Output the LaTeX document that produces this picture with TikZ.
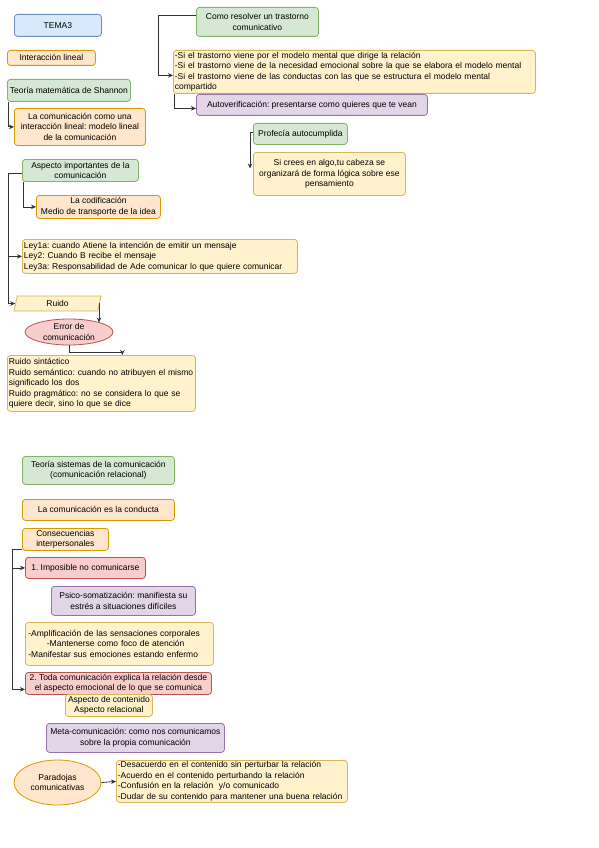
\documentclass[tikz,border=0pt]{standalone}
\usepackage{fontspec}
\setmainfont{Liberation Sans}
\usetikzlibrary{arrows.meta,shapes.geometric}
\definecolor{bfill}{HTML}{DAE8FC}\definecolor{bdraw}{HTML}{6C8EBF}
\definecolor{ofill}{HTML}{FFE6CC}\definecolor{odraw}{HTML}{D79B00}
\definecolor{gfill}{HTML}{D5E8D4}\definecolor{gdraw}{HTML}{82B366}
\definecolor{yfill}{HTML}{FFF2CC}\definecolor{ydraw}{HTML}{D6B656}
\definecolor{rfill}{HTML}{F8CECC}\definecolor{rdraw}{HTML}{B85450}
\definecolor{pfill}{HTML}{E1D5E7}\definecolor{pdraw}{HTML}{9673A6}
\definecolor{edge}{HTML}{333333}
\frenchspacing
\begin{document}
\begin{tikzpicture}[x=1pt,y=-1pt,
  base/.style={draw, rounded corners=3pt, line width=0.8pt, inner xsep=1.5pt, inner ysep=0.5pt,
    font=\fontsize{8.5}{10.5}\selectfont, anchor=north west, align=center},
  bbox/.style={base, fill=bfill, draw=bdraw},
  obox/.style={base, fill=ofill, draw=odraw},
  gbox/.style={base, fill=gfill, draw=gdraw},
  ybox/.style={base, fill=yfill, draw=ydraw},
  rbox/.style={base, fill=rfill, draw=rdraw},
  pbox/.style={base, fill=pfill, draw=pdraw},
  lefttext/.style={align=left, text width=#1},
  arr/.style={draw=edge, line width=0.8pt, -{Stealth[length=5pt,width=4.5pt]}}
]
\fill[white] (0,0) rectangle (599,848);
\useasboundingbox (0,0) rectangle (599,848);

% left column, top
\node[bbox, minimum width=87pt, minimum height=22pt] (n1) at (14,14) {TEMA3};
\node[obox, minimum width=88pt, minimum height=15pt] (n2) at (7,50) {Interacción lineal};
\node[gbox, minimum width=123pt, minimum height=22pt] (n3) at (7,79) {Teoría matemática de Shannon};
\node[obox, minimum width=131pt, minimum height=37pt] (n4) at (14,108) {La comunicación como una\\interacción lineal: modelo lineal\\de la comunicación};

% right column
\node[gbox, minimum width=122pt, minimum height=29pt] (n5) at (196,7) {Como resolver un trastorno\\comunicativo};
\node[ybox, lefttext=359pt, minimum height=43pt] (n6) at (173,50) {-Si el trastorno viene por el modelo mental que dirige la relación\\-Si el trastorno viene de la necesidad emocional sobre la que se elabora el modelo mental\\-Si el trastorno viene de las conductas con las que se estructura el modelo mental\\compartido};
\node[pbox, minimum width=231pt, minimum height=21pt] (n7) at (196,94) {Autoverificación: presentarse como quieres que te vean};
\node[gbox, minimum width=94pt, minimum height=21pt] (n8) at (253,123) {Profecía autocumplida};
\node[ybox, minimum width=152pt, minimum height=43pt] (n9) at (253,152) {Si crees en algo,tu cabeza se\\organizará de forma lógica sobre ese\\pensamiento};

% aspectos
\node[gbox, minimum width=116pt, minimum height=22pt] (n10) at (22,159) {Aspecto importantes de la\\comunicación};
\node[obox, minimum width=124pt, minimum height=23pt] (n11) at (36,195) {La codificación\\Medio de transporte de la idea};
\node[ybox, lefttext=272pt, minimum height=34pt] (n12) at (22,239) {Ley1a: cuando Atiene la intención de emitir un mensaje\\Ley2: Cuando B recibe el mensaje\\Ley3a: Responsabilidad de Ade comunicar lo que quiere comunicar};
\node[draw=ydraw, fill=yfill, line width=0.8pt, trapezium, trapezium left angle=62, trapezium right angle=118,
  trapezium stretches body, minimum width=87pt, minimum height=15pt, inner sep=0pt,
  font=\fontsize{8.5}{10.5}\selectfont] (n13) at (57.5,303.5) {Ruido};
\node[ellipse, draw=rdraw, fill=rfill, line width=0.8pt, minimum width=88pt, minimum height=26pt, inner sep=0pt,
  align=center, font=\fontsize{8.5}{10.5}\selectfont] (n14) at (69,332) {Error de\\comunicación};
\coordinate (e14) at (99,322.5);
\node[ybox, lefttext=185pt, minimum height=56pt] (n15) at (7,355) {Ruido sintáctico\\Ruido semántico: cuando no atribuyen el mismo\\significado los dos\\Ruido pragmático: no se considera lo que se\\quiere decir, sino lo que se dice};

% lower part
\node[gbox, minimum width=152pt, minimum height=28pt] (n16) at (22,456) {Teoría sistemas de la comunicación\\(comunicación relacional)};
\node[obox, minimum width=152pt, minimum height=21pt] (n17) at (22,499) {La comunicación es la conducta};
\node[obox, minimum width=86pt, minimum height=22pt] (n18) at (22,528) {Consecuencias\\interpersonales};
\node[rbox, minimum width=120pt, minimum height=21pt] (n19) at (25,557) {1. Imposible no comunicarse};
\node[pbox, minimum width=144pt, minimum height=29pt] (n20) at (51,586) {Psico-somatización: manifiesta su\\estrés a situaciones difíciles};
\node[ybox, lefttext=185pt, minimum height=43pt] (n21) at (25,622) {\hspace*{1.5pt}-Amplificación de las sensaciones corporales\\\hspace*{20pt}-Mantenerse como foco de atención\\\hspace*{1.5pt}-Manifestar sus emociones estando enfermo};
\node[rbox, minimum width=186pt, minimum height=22pt] (n22) at (25,672) {2. Toda comunicación explica la relación desde\\el aspecto emocional de lo que se comunica};
\node[ybox, minimum width=87pt, minimum height=22pt] (n23) at (65,694) {Aspecto de contenido\\Aspecto relacional};
\node[pbox, minimum width=178pt, minimum height=29pt] (n24) at (46,723) {Meta-comunicación: como nos comunicamos\\sobre la propia comunicación};
\node[ellipse, draw=odraw, fill=ofill, line width=0.8pt, minimum width=87pt, minimum height=45pt, inner sep=0pt,
  align=center, font=\fontsize{8.5}{10.5}\selectfont] (n25) at (57.5,782.5) {Paradojas\\comunicativas};
\node[ybox, lefttext=228pt, minimum height=42pt] (n26) at (116,760) {-Desacuerdo en el contenido sin perturbar la relación\\-Acuerdo en el contenido perturbando la relación\\-Confusión en la relación\ \ y/o comunicado\\-Dudar de su contenido para mantener una buena relación};

% connectors
\draw[arr] ([xshift=1pt]n3.south west) |- (n4.west);
\draw[arr] ([yshift=6.5pt]n5.west) -- ++(-38,0) |- ([yshift=-3.5pt]n6.west);
\draw[arr] ([xshift=1pt]n6.south west) |- ([yshift=-3.5pt]n7.west);
\draw[arr] ([yshift=1pt]n8.west) -| ([xshift=-3pt,yshift=5.5pt]n9.west);
\draw[arr] ([xshift=1pt]n10.south west) |- (n11.west);
\draw[arr] ([yshift=-3pt]n10.west) -- ++(-14,0) |- (n12.west);
\draw[arr] ([yshift=-3pt]n10.west) -- ++(-14,0) |- (n13.west);
\draw[arr] (n13.east) -| (e14);
\draw[arr] (n14.south) -- ++(0,7) -| ([xshift=21pt]n15.north);
\draw[arr] ([yshift=1pt]n18.south west) -- ++(-10,0) |- (n19.west);
\draw[arr] ([yshift=1pt]n18.south west) -- ++(-10,0) |- ([yshift=-6pt]n22.west);
\draw[arr] (n25.east) -- (n26.west);
\end{tikzpicture}
\end{document}
